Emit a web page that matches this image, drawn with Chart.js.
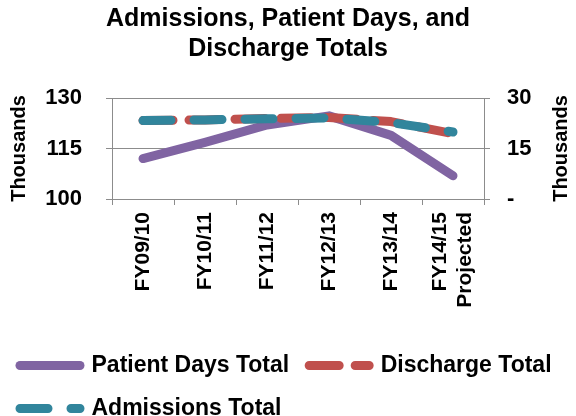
<!DOCTYPE html>
<html><head><meta charset="utf-8">
<script src="https://cdn.jsdelivr.net/npm/chart.js@4"></script>
<style>html,body{margin:0;padding:0;background:#fff;}canvas{display:block;}</style>
</head><body>
<canvas id="c" width="576" height="416"></canvas>
<script>
const categories = ['FY09/10', 'FY10/11', 'FY11/12', 'FY12/13', 'FY13/14', ['FY14/15', 'Projected']];
const patientDays = [112.0, 116.8, 122.0, 124.7, 118.9, 106.9];
const dischargeTotal = [23.3, 23.5, 23.9, 24.2, 23.0, 19.4];
const admissionsTotal = [23.3, 23.5, 23.8, 24.1, 22.7, 19.9];
const leftTicks = [100, 115, 130];
const rightTicks = [0, 15, 30];
const seriesNames = ['Patient Days Total', 'Discharge Total', 'Admissions Total'];

const FONT = "'Liberation Sans', Arial, sans-serif";
const GRID = '#8c8c8c';
Chart.defaults.color = '#000';
Chart.defaults.font.family = FONT;

const rightTitle = {
  id: 'rightTitle',
  afterDraw(chart) {
    const s = chart.scales.y1;
    const ctx = chart.ctx;
    ctx.save();
    ctx.translate(s.right - 15, (s.top + s.bottom) / 2);
    ctx.rotate(-Math.PI / 2);
    ctx.textAlign = 'center';
    ctx.textBaseline = 'middle';
    ctx.font = 'bold 20px ' + FONT;
    ctx.fillStyle = '#000';
    ctx.fillText('Thousands', 0, 0);
    ctx.restore();
  }
};

// centre multi-line rotated category labels on their tick
const centerMultiLine = {
  id: 'centerMultiLine',
  beforeDraw(chart) {
    const s = chart.scales.x;
    s.getLabelItems(chart.chartArea).forEach(it => {
      if (Array.isArray(it.label) && it.label.length > 1) {
        it.options.translation[0] -= it.font.lineHeight * (it.label.length - 1) / 2;
      }
    });
  }
};

new Chart(document.getElementById('c'), {
  type: 'line',
  data: {
    labels: categories,
    datasets: [
      { label: seriesNames[0], data: patientDays, yAxisID: 'y', borderColor: '#8064A2', backgroundColor: '#8064A2',
        borderWidth: 9, pointRadius: 0, borderCapStyle: 'round', borderJoinStyle: 'round', order: 3 },
      { label: seriesNames[1], data: dischargeTotal, yAxisID: 'y1', borderColor: '#C0504D', backgroundColor: '#C0504D',
        borderWidth: 9, pointRadius: 0, borderDash: [30, 16], borderCapStyle: 'round', borderJoinStyle: 'round', order: 2 },
      { label: seriesNames[2], data: admissionsTotal, yAxisID: 'y1', borderColor: '#31859C', backgroundColor: '#31859C',
        borderWidth: 9, pointRadius: 0, borderDash: [28, 23], borderCapStyle: 'round', borderJoinStyle: 'round', order: 1 }
    ]
  },
  options: {
    responsive: false,
    devicePixelRatio: 1,
    animation: false,
    layout: { padding: { left: 0, right: 0, top: 0, bottom: -14 } },
    plugins: {
      tooltip: { enabled: false },
      title: {
        display: true,
        text: ['Admissions, Patient Days, and', 'Discharge Totals'],
        color: '#000',
        font: { size: 25, weight: 'bold', family: FONT, lineHeight: 1.2 },
        padding: { top: 4, bottom: 34 }
      },
      legend: {
        position: 'bottom',
        align: 'start',
        labels: {
          usePointStyle: true,
          pointStyle: 'line',
          pointStyleWidth: 60,
          padding: 20,
          color: '#000',
          font: { size: 23, weight: 'bold', family: FONT },
          sort: (a, b) => a.datasetIndex - b.datasetIndex,
          generateLabels(chart) {
            const items = Chart.defaults.plugins.legend.labels.generateLabels(chart);
            items.forEach(it => {
              const ds = chart.data.datasets[it.datasetIndex];
              it.lineDash = ds.borderDash || [];
              it.lineCap = 'round';
              it.lineWidth = ds.borderWidth;
              it.strokeStyle = ds.borderColor;
            });
            return items;
          }
        }
      }
    },
    scales: {
      x: {
        offset: true,
        afterFit(s) { s.height = 135; s.paddingLeft = 0; s.paddingRight = 0; },
        grid: { offset: true, drawOnChartArea: false, drawTicks: true, tickLength: 6, color: GRID, lineWidth: 1 },
        border: { display: true, color: GRID, width: 1 },
        ticks: { autoSkip: false, minRotation: 90, maxRotation: 90, padding: 7, color: '#000',
          font: { size: 21, weight: 'bold', family: FONT } }
      },
      y: {
        position: 'left',
        min: leftTicks[0], max: leftTicks[leftTicks.length - 1],
        afterFit(s) { s.width = 112; },
        grid: { color: GRID, lineWidth: 1, tickLength: 6 },
        border: { display: true, color: GRID, width: 1 },
        ticks: { stepSize: leftTicks[1] - leftTicks[0], padding: 24, color: '#000',
          font: { size: 22, weight: 'bold', family: FONT } },
        title: { display: true, text: 'Thousands', color: '#000',
          font: { size: 20, weight: 'bold', family: FONT }, padding: { top: 7, bottom: 14 } }
      },
      y1: {
        position: 'right',
        min: rightTicks[0], max: rightTicks[rightTicks.length - 1],
        afterFit(s) { s.width = 92; },
        grid: { drawOnChartArea: false, color: GRID, lineWidth: 1, tickLength: 6 },
        border: { display: true, color: GRID, width: 1 },
        ticks: { stepSize: rightTicks[1] - rightTicks[0], padding: 17, color: '#000',
          font: { size: 22, weight: 'bold', family: FONT },
          callback: v => (v === 0 ? '-' : v) }
      }
    }
  },
  plugins: [rightTitle, centerMultiLine]
});
</script>
</body></html>
